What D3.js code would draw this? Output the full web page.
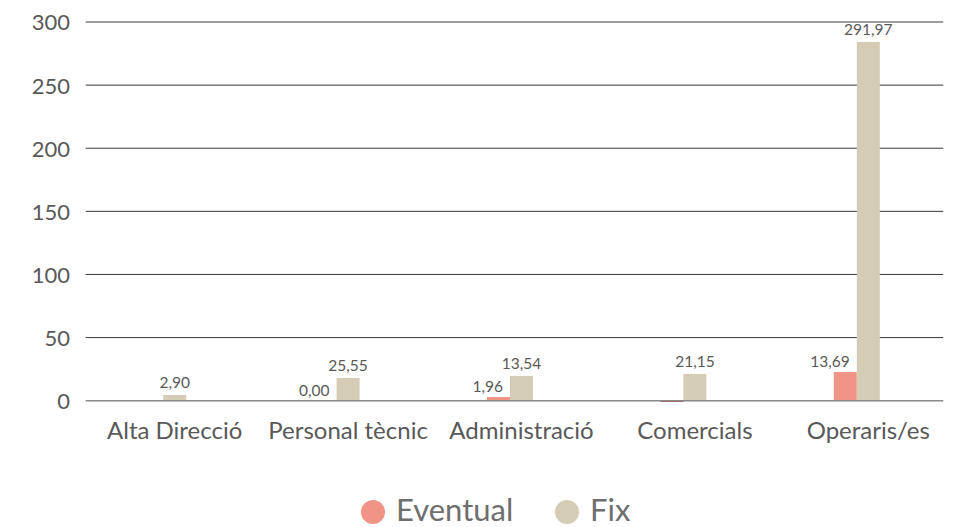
<!DOCTYPE html>
<html><head><meta charset="utf-8">
<script src="https://cdn.jsdelivr.net/npm/d3@7"></script>
<style>body{margin:0;background:#fff}svg{display:block}</style>
</head><body>
<svg id="chart" width="954" height="527"></svg>
<script>
const categories = ["Alta Direcció","Personal tècnic","Administració","Comercials","Operaris/es"];
const series = ["Eventual","Fix","Altres"];
const eventualValues = [0, 0, 2.9, -0.8, 22.7];
const fixValues = [4.5, 18, 19.6, 21.2, 284.2];
const otherValues = [0, 0.5, 0, 0.5, 0];
const eventualLabels = [null, "0,00", "1,96", null, "13,69"];
const fixLabels = ["2,90", "25,55", "13,54", "21,15", "291,97"];
const yTicks = [0, 50, 100, 150, 200, 250, 300];
const legendItems = ["Eventual","Fix"];

(function () {
const font = "Lato, 'Open Sans', sans-serif";
const colors = {Eventual:"#F09486", Fix:"#D5CCB6", Altres:"#8C7E6E"};
const negColor = "#9B1C2E";

const svg = d3.select("#chart");
const pLeft = 85.7, pRight = 943.3, pTop = 22, pBottom = 400.7;

const y = d3.scaleLinear().domain([0, 300]).range([pBottom, pTop]);
const x0 = d3.scaleBand().domain(categories).range([88, 955]).paddingInner(0).paddingOuter(0);
const x1 = d3.scaleBand().domain(series).range([0, x0.bandwidth()]).paddingInner(0).paddingOuter(2.27);

svg.append("g").selectAll("line").data(yTicks.filter(d => d > 0)).join("line")
  .attr("x1", pLeft).attr("x2", pRight)
  .attr("y1", d => y(d)).attr("y2", d => y(d))
  .attr("stroke", "#3a3a3a").attr("stroke-width", 1);

const yAxis = d3.axisLeft(y).tickValues(yTicks).tickSize(0).tickPadding(0).tickFormat(d3.format("d"));
const yg = svg.append("g").attr("transform", `translate(${70},0)`).call(yAxis);
yg.select(".domain").remove();
yg.selectAll("text").attr("font-family", font).attr("font-size", 22).attr("fill", "#595959").attr("dy", "0.36em");

const rows = categories.map((c, i) => ({cat: c, vals: [
  {s: "Eventual", v: eventualValues[i], label: eventualLabels[i]},
  {s: "Fix", v: fixValues[i], label: fixLabels[i]},
  {s: "Altres", v: otherValues[i], label: null}
]}));

const groups = svg.append("g").selectAll("g").data(rows).join("g")
  .attr("transform", d => `translate(${x0(d.cat)},0)`);

groups.selectAll("rect").data(d => d.vals).join("rect")
  .attr("x", d => x1(d.s)).attr("width", x1.bandwidth())
  .attr("y", d => y(Math.max(0, d.v)))
  .attr("height", d => Math.abs(y(d.v) - y(0)))
  .attr("fill", d => d.v < 0 ? negColor : colors[d.s]);

svg.append("line").attr("x1", pLeft).attr("x2", pRight).attr("y1", y(0)).attr("y2", y(0))
  .attr("stroke", "#8a8a8a").attr("stroke-width", 1.6);

groups.selectAll("text.val").data(d => d.vals.filter(v => v.label)).join("text")
  .attr("class", "val")
  .attr("x", d => d.s === "Eventual" ? x1(d.s) + x1.bandwidth() - 7 : x1(d.s) + x1.bandwidth() / 2)
  .attr("y", d => y(Math.max(0, d.v)) - (d.s === "Eventual" ? 5 : 7))
  .attr("text-anchor", d => d.s === "Eventual" ? "end" : "middle")
  .attr("font-family", font).attr("font-size", 15.5).attr("fill", "#595959")
  .text(d => d.label);

const xAxis = d3.axisBottom(x0).tickSize(0).tickPadding(0);
const xg = svg.append("g").attr("transform", `translate(0,${439})`).call(xAxis);
xg.select(".domain").remove();
xg.selectAll("text").attr("font-family", font).attr("font-size", 24).attr("fill", "#595959").attr("dy", 0);

const leg = svg.append("g").attr("transform", "translate(373,512)");
const legX = d3.scalePoint().domain(legendItems).range([0, 194]);
const li = leg.selectAll("g").data(legendItems).join("g").attr("transform", d => `translate(${legX(d)},0)`);
li.append("circle").attr("r", 12).attr("fill", d => colors[d]);
li.append("text").attr("x", 23).attr("y", 9).attr("font-family", font).attr("font-size", 31)
  .attr("fill", "#6e6e6e").text(d => d);
})();
</script>
</body></html>
